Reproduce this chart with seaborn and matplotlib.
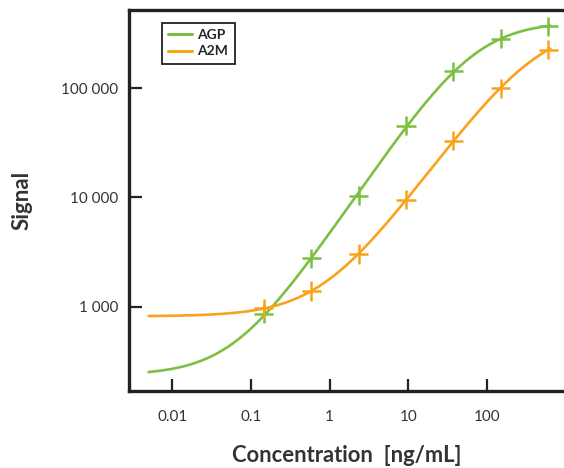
import numpy as np
import pandas as pd
import seaborn as sns
import matplotlib
matplotlib.use("Agg")
import matplotlib.pyplot as plt
from matplotlib.ticker import FixedLocator, FuncFormatter, NullLocator
from matplotlib.lines import Line2D

# Standards: 4-fold dilution series (ng/mL)
concentration = [0.146, 0.586, 2.34, 9.375, 37.5, 150, 600]
agp_signal = [858, 2780, 10400, 45500, 143000, 284000, 371000]
a2m_signal = [967, 1390, 3040, 9530, 33100, 100600, 226000]
# Blank (zero-analyte) signal used as the lower asymptote of each fit
blank_signal = {"AGP": 235, "A2M": 815}
analytes = ["AGP", "A2M"]
x_ticks = [0.01, 0.1, 1, 10, 100]
y_ticks = [1000, 10000, 100000]

colors = {"AGP": "#7cc043", "A2M": "#f8a31c"}
text_color = "#333333"


def four_pl_log(logx, p, bottom):
    """log10 of a four-parameter logistic curve; p = (log top, log EC50, hill)."""
    lt, lc, hill = p
    top = 10.0 ** lt
    y = top + (bottom - top) / (1.0 + 10.0 ** (hill * (logx - lc)))
    return np.log10(np.clip(y, 1e-9, None))


def fit_four_pl(x, y, bottom, p0, iters=400):
    """Levenberg-Marquardt least squares in log-log space, lower asymptote fixed."""
    lx, ly = np.log10(x), np.log10(y)
    p = np.array(p0, dtype=float)
    lam = 1e-2
    res = four_pl_log(lx, p, bottom) - ly
    cost = res @ res
    for _ in range(iters):
        J = np.empty((lx.size, p.size))
        for k in range(p.size):
            dp = np.zeros_like(p)
            dp[k] = 1e-6
            J[:, k] = (four_pl_log(lx, p + dp, bottom)
                       - four_pl_log(lx, p - dp, bottom)) / 2e-6
        A = J.T @ J
        g = J.T @ res
        step = np.linalg.solve(A + lam * np.diag(np.diag(A) + 1e-12), -g)
        p_new = p + step
        res_new = four_pl_log(lx, p_new, bottom) - ly
        cost_new = res_new @ res_new
        if cost_new < cost:
            p, res, cost = p_new, res_new, cost_new
            lam *= 0.3
        else:
            lam *= 5.0
    return p


points = pd.DataFrame({
    "Concentration": concentration * 2,
    "Signal": agp_signal + a2m_signal,
    "Analyte": ["AGP"] * len(concentration) + ["A2M"] * len(concentration),
})

guesses = {"AGP": [5.65, 1.8, 1.1], "A2M": [5.7, 2.6, 1.0]}
curve_x = np.logspace(np.log10(0.005), np.log10(640), 300)
curves = []
for name, sig in (("AGP", agp_signal), ("A2M", a2m_signal)):
    params = fit_four_pl(np.array(concentration), np.array(sig, dtype=float),
                         blank_signal[name], guesses[name])
    curves.append(pd.DataFrame({
        "Concentration": curve_x,
        "Signal": 10.0 ** four_pl_log(np.log10(curve_x), params, blank_signal[name]),
        "Analyte": name,
    }))
curves = pd.concat(curves, ignore_index=True)

sns.set_theme(style="white")
plt.rcParams["font.family"] = ["Lato", "DejaVu Sans"]

fig = plt.figure(figsize=(5.64, 4.68), dpi=100)
ax = fig.add_axes([129 / 564, 1 - 391 / 468, 435 / 564, 381 / 468])

sns.lineplot(data=curves, x="Concentration", y="Signal", hue="Analyte",
             hue_order=analytes, palette=colors, linewidth=1.9,
             legend=False, ax=ax, sort=False)
sns.scatterplot(data=points, x="Concentration", y="Signal", hue="Analyte",
                hue_order=analytes, palette=colors, marker="+", s=190,
                linewidth=1.8, legend=False, ax=ax, zorder=3)

ax.set_xscale("log")
ax.set_yscale("log")
ax.set_xlim(10 ** -2.55, 10 ** 2.98)
ax.set_ylim(10 ** 2.227, 10 ** 5.718)

ax.xaxis.set_major_locator(FixedLocator(x_ticks))
ax.yaxis.set_major_locator(FixedLocator(y_ticks))
ax.xaxis.set_minor_locator(NullLocator())
ax.yaxis.set_minor_locator(NullLocator())
ax.xaxis.set_major_formatter(FuncFormatter(lambda v, _: f"{v:g}"))
ax.yaxis.set_major_formatter(
    FuncFormatter(lambda v, _: f"{v:,.0f}".replace(",", " ")))

ax.tick_params(axis="both", which="major", direction="in", length=9,
               width=1.6, color="#222222", labelsize=11,
               labelcolor=text_color, bottom=True, left=True)
ax.tick_params(axis="x", pad=14)
ax.tick_params(axis="y", pad=8)

for side in ("left", "top", "bottom"):
    ax.spines[side].set_color("#222222")
    ax.spines[side].set_linewidth(2.4)
ax.spines["right"].set_visible(False)

ax.set_xlabel("Concentration  [ng/mL]", fontsize=15.8, fontweight="bold",
              color=text_color, labelpad=15)
ax.set_ylabel("Signal", fontsize=16, fontweight="bold",
              color=text_color, labelpad=20)

handles = [Line2D([0], [0], color=colors[a], lw=2.2) for a in analytes]
leg = ax.legend(handles, analytes, loc="upper left",
                bbox_to_anchor=(0.076, 0.966), borderaxespad=0,
                frameon=True, fancybox=False,
                edgecolor="#222222", framealpha=1, handlelength=1.7,
                handletextpad=0.4, borderpad=0.45, labelspacing=0.3,
                prop={"weight": "bold", "size": 10})
leg.get_frame().set_linewidth(1.3)

fig.savefig("out.png", dpi=100)
